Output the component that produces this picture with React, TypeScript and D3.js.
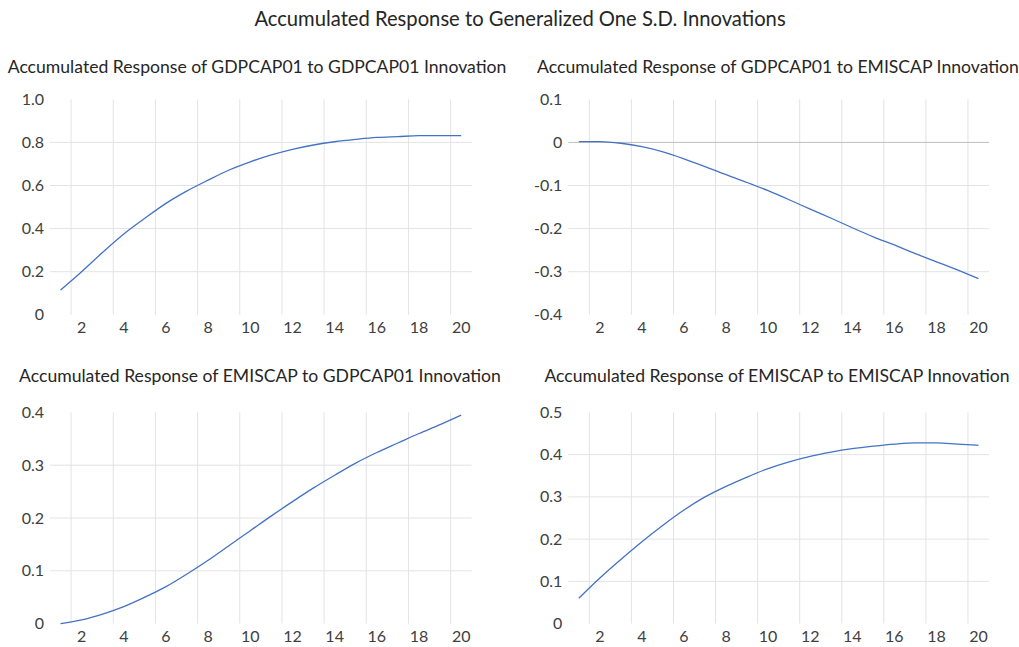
import React from "react";
import * as d3 from "d3";

const periods: number[] = d3.range(1, 21);
const xTickLabels: number[] = [2, 4, 6, 8, 10, 12, 14, 16, 18, 20];

const mainTitle = "Accumulated Response to Generalized One S.D. Innovations";

const titleGdpGdp = "Accumulated Response of GDPCAP01 to GDPCAP01 Innovation";
const titleGdpEmis = "Accumulated Response of GDPCAP01 to EMISCAP Innovation";
const titleEmisGdp = "Accumulated Response of EMISCAP to GDPCAP01 Innovation";
const titleEmisEmis = "Accumulated Response of EMISCAP to EMISCAP Innovation";

const gdpToGdp: number[] = [
  0.115, 0.2, 0.29, 0.375, 0.448, 0.517, 0.575, 0.625, 0.672, 0.71,
  0.742, 0.768, 0.788, 0.803, 0.814, 0.823, 0.827, 0.831, 0.831, 0.831,
];
const gdpToEmis: number[] = [
  0.002, 0.002, -0.002, -0.01, -0.022, -0.038, -0.056, -0.075, -0.093, -0.112,
  -0.133, -0.155, -0.176, -0.198, -0.219, -0.238, -0.258, -0.277, -0.296, -0.316,
];
const emisToGdp: number[] = [
  0.0, 0.007, 0.018, 0.032, 0.05, 0.07, 0.094, 0.12, 0.148, 0.176,
  0.204, 0.231, 0.257, 0.281, 0.304, 0.324, 0.342, 0.36, 0.377, 0.395,
];
const emisToEmis: number[] = [
  0.06, 0.108, 0.152, 0.194, 0.233, 0.269, 0.3, 0.325, 0.347, 0.367,
  0.383, 0.396, 0.406, 0.414, 0.42, 0.425, 0.428, 0.428, 0.425, 0.422,
];

const yTicksGdpGdp: number[] = [0, 0.2, 0.4, 0.6, 0.8, 1.0];
const yTicksGdpEmis: number[] = [-0.4, -0.3, -0.2, -0.1, 0, 0.1];
const yTicksEmisGdp: number[] = [0, 0.1, 0.2, 0.3, 0.4];
const yTicksEmisEmis: number[] = [0, 0.1, 0.2, 0.3, 0.4, 0.5];

const FONT = "Lato, 'Noto Sans', sans-serif";
const LINE = "#4472c4";
const GRID = "#e3e3e3";
const AXIS = "#bfbfbf";
const TICK = "#404040";

type PanelProps = {
  title: string;
  titleX: number;
  titleY: number;
  values: number[];
  yTicks: number[];
  yFmt: (v: number) => string;
  left: number;
  right: number;
  top: number;
  bottom: number;
};

function Panel({ title, titleX, titleY, values, yTicks, yFmt, left, right, top, bottom }: PanelProps) {
  const x = d3.scaleLinear().domain([0.5, 20.5]).range([left, right]);
  const y = d3
    .scaleLinear()
    .domain([yTicks[0], yTicks[yTicks.length - 1]])
    .range([bottom, top]);
  const line = d3
    .line<number>()
    .x((_, i) => x(periods[i]))
    .y((d) => y(d))
    .curve(d3.curveMonotoneX);
  const vGrid = d3.range(1.5, 20.5, 2);
  const inner = yTicks.slice(1, -1);
  const hasZeroInside = yTicks[0] < 0;
  return (
    <g>
      <text x={titleX} y={titleY} textAnchor="middle" fontFamily={FONT} fontSize={17.6} fill="#262626">
        {title}
      </text>
      {vGrid.map((g) => (
        <line key={"v" + g} x1={x(g)} x2={x(g)} y1={top} y2={bottom} stroke={GRID} strokeWidth={1} />
      ))}
      {inner.map((t) => (
        <line
          key={"h" + t}
          x1={left}
          x2={right}
          y1={y(t)}
          y2={y(t)}
          stroke={hasZeroInside && t === 0 ? AXIS : GRID}
          strokeWidth={1}
        />
      ))}
      {yTicks.map((t) => (
        <text
          key={"yt" + t}
          x={left - 6}
          y={y(t)}
          dy="0.35em"
          textAnchor="end"
          fontFamily={FONT}
          fontSize={16}
          fill={TICK}
        >
          {yFmt(t)}
        </text>
      ))}
      {xTickLabels.map((t) => (
        <text
          key={"xt" + t}
          x={x(t)}
          y={bottom + 13}
          dy="0.35em"
          textAnchor="middle"
          fontFamily={FONT}
          fontSize={16}
          fill={TICK}
        >
          {t}
        </text>
      ))}
      <path d={line(values) || ""} fill="none" stroke={LINE} strokeWidth={1.3} />
    </g>
  );
}

const fmt1 = (v: number) => (v === 0 ? "0" : d3.format(".1f")(v).replace("−", "-"));

export default function App() {
  return (
    <svg
      width={1019}
      height={647}
      style={{ position: "absolute", left: 0, top: 0, background: "#fff" }}
    >
      <rect x={0} y={0} width={1019} height={647} fill="#fff" />
      <text x={520} y={26} textAnchor="middle" fontFamily={FONT} fontSize={20.2} fill="#262626">
        {mainTitle}
      </text>
      <Panel
        title={titleGdpGdp}
        titleX={257}
        titleY={73}
        values={gdpToGdp}
        yTicks={yTicksGdpGdp}
        yFmt={fmt1}
        left={50}
        right={471.7}
        top={99.3}
        bottom={314.8}
      />
      <Panel
        title={titleGdpEmis}
        titleX={778}
        titleY={73}
        values={gdpToEmis}
        yTicks={yTicksGdpEmis}
        yFmt={fmt1}
        left={568.3}
        right={989}
        top={99.3}
        bottom={314.8}
      />
      <Panel
        title={titleEmisGdp}
        titleX={260}
        titleY={382}
        values={emisToGdp}
        yTicks={yTicksEmisGdp}
        yFmt={fmt1}
        left={50}
        right={471.7}
        top={412.4}
        bottom={623.6}
      />
      <Panel
        title={titleEmisEmis}
        titleX={777}
        titleY={382}
        values={emisToEmis}
        yTicks={yTicksEmisEmis}
        yFmt={fmt1}
        left={568.3}
        right={989}
        top={412.4}
        bottom={623.6}
      />
    </svg>
  );
}
